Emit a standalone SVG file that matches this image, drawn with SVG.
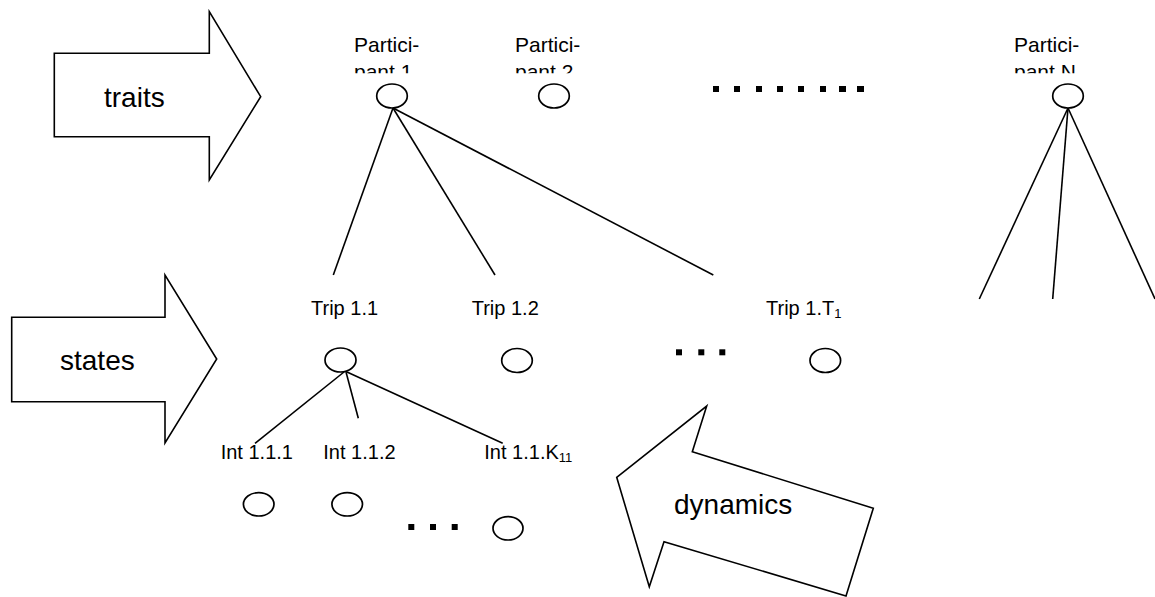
<svg xmlns="http://www.w3.org/2000/svg" width="1155" height="597" viewBox="0 0 1155 597">
<style>
.sh{fill:#fff;stroke:#000;stroke-width:1.6;stroke-linejoin:miter}
.ln{stroke:#000;stroke-width:1.6;fill:none}
.nd{fill:#fff;stroke:#000;stroke-width:1.7}
.big{font-family:"Liberation Sans",Arial,sans-serif;font-size:28px;fill:#000}
.lb{font-family:"Liberation Sans",Arial,sans-serif;font-size:20px;fill:#000}
.pl{font-size:21px}
.sub{font-size:13px}
.dot{fill:#000}
</style>
<defs>
<clipPath id="clipP"><rect x="0" y="0" width="1155" height="73.3"/></clipPath>
</defs>
<g id="arrow-traits">
<polygon class="sh" points="54.3,53.3 209.3,53.3 209.3,11.7 260.7,96.7 209.3,180 209.3,136.7 54.3,136.7"/>
<text class="big" x="104" y="107">traits</text>
</g>
<g id="arrow-states">
<polygon class="sh" points="11.7,317.3 165,317.3 165,275 216.7,359 165,443 165,401.7 11.7,401.7"/>
<text class="big" x="60" y="370">states</text>
</g>
<g id="arrow-dynamics">
<polygon class="sh" points="616.7,477.3 706.7,406 692.3,451.7 873.3,508.3 846,596 664,541.7 649.3,586.7"/>
<text class="big" x="674" y="514">dynamics</text>
</g>
<g id="connectors">
<line class="ln" x1="393" y1="108" x2="333.3" y2="275"/>
<line class="ln" x1="393" y1="108" x2="495" y2="275"/>
<line class="ln" x1="393" y1="108" x2="713.3" y2="275"/>
<line class="ln" x1="1068" y1="108" x2="979.3" y2="299"/>
<line class="ln" x1="1068" y1="108" x2="1052.7" y2="299"/>
<line class="ln" x1="1068" y1="108" x2="1155" y2="299"/>
<line class="ln" x1="344" y1="372" x2="255" y2="443.3"/>
<line class="ln" x1="346" y1="372" x2="358.3" y2="418.3"/>
<line class="ln" x1="347" y1="372" x2="502.7" y2="443.3"/>
</g>
<g id="participant-1">
<g clip-path="url(#clipP)">
<text class="lb pl" x="354" y="52">Partici-</text>
<text class="lb pl" x="354" y="78.5">pant 1</text>
</g>
<ellipse class="nd" cx="392" cy="96" rx="15.3" ry="12"/>
</g>
<g id="participant-2">
<g clip-path="url(#clipP)">
<text class="lb pl" x="515" y="52">Partici-</text>
<text class="lb pl" x="515" y="78.5">pant 2</text>
</g>
<ellipse class="nd" cx="554" cy="96" rx="15.3" ry="12"/>
</g>
<g id="participant-ellipsis">
<rect class="dot" x="713" y="86" width="6" height="6"/>
<rect class="dot" x="734" y="86" width="6" height="6"/>
<rect class="dot" x="756" y="86" width="6" height="6"/>
<rect class="dot" x="777" y="86" width="6" height="6"/>
<rect class="dot" x="798" y="86" width="6" height="6"/>
<rect class="dot" x="820" y="86" width="6" height="6"/>
<rect class="dot" x="839" y="86" width="7" height="6"/>
<rect class="dot" x="857" y="86" width="7" height="6"/>
</g>
<g id="participant-N">
<g clip-path="url(#clipP)">
<text class="lb pl" x="1014" y="52">Partici-</text>
<text class="lb pl" x="1014" y="78.5">pant N</text>
</g>
<ellipse class="nd" cx="1068" cy="96" rx="15.3" ry="12"/>
</g>
<g id="trip-1-1">
<text class="lb" x="311" y="315">Trip 1.1</text>
<ellipse class="nd" cx="340.5" cy="360" rx="15.5" ry="12"/>
</g>
<g id="trip-1-2">
<text class="lb" x="471.7" y="315">Trip 1.2</text>
<ellipse class="nd" cx="517" cy="360.5" rx="15.3" ry="12"/>
</g>
<g id="trip-ellipsis">
<rect class="dot" x="676" y="349.3" width="6" height="6"/>
<rect class="dot" x="698.3" y="349.3" width="6" height="6"/>
<rect class="dot" x="719.3" y="349.3" width="6" height="6"/>
</g>
<g id="trip-1-T1">
<text class="lb" x="766" y="315">Trip 1.T<tspan class="sub" dy="3">1</tspan></text>
<ellipse class="nd" cx="825.3" cy="360.5" rx="15.3" ry="12"/>
</g>
<g id="int-1-1-1">
<text class="lb" x="220.7" y="459.3">Int 1.1.1</text>
<ellipse class="nd" cx="258.7" cy="504.3" rx="15.3" ry="11.7"/>
</g>
<g id="int-1-1-2">
<text class="lb" x="323.3" y="459.3">Int 1.1.2</text>
<ellipse class="nd" cx="347.2" cy="504.3" rx="15.3" ry="11.7"/>
</g>
<g id="int-ellipsis">
<rect class="dot" x="408.3" y="524" width="6" height="6"/>
<rect class="dot" x="430" y="524" width="6" height="6"/>
<rect class="dot" x="451.7" y="524" width="6" height="6"/>
</g>
<g id="int-1-1-K11">
<text class="lb" x="484.3" y="459.3">Int 1.1.K<tspan class="sub" dy="3">11</tspan></text>
<ellipse class="nd" cx="508" cy="528.3" rx="15" ry="11.7"/>
</g>
</svg>
